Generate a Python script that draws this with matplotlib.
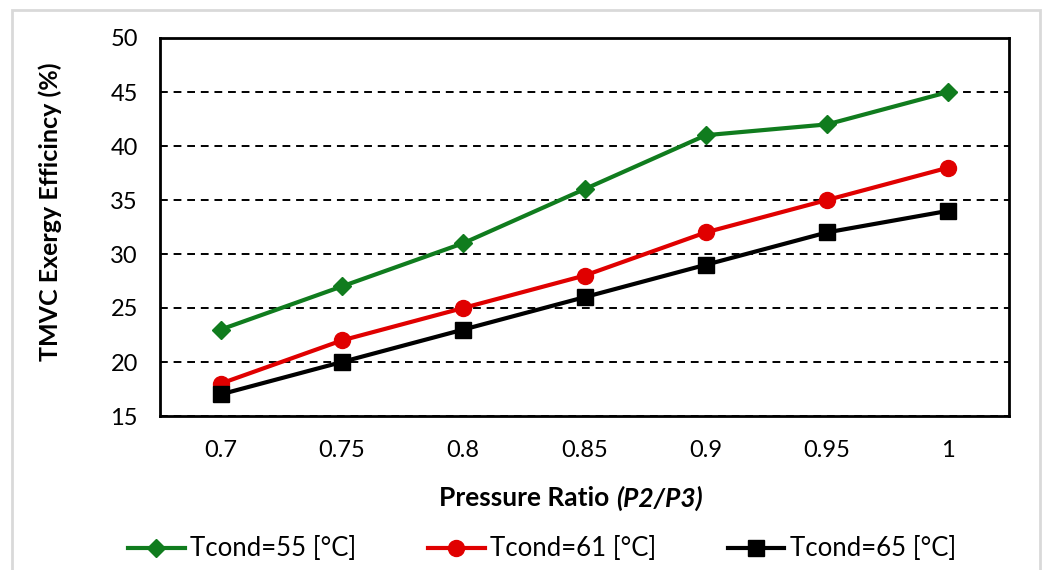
import matplotlib
matplotlib.use("Agg")
import matplotlib.pyplot as plt
from matplotlib.patches import Rectangle

plt.rcParams['font.family'] = ['Lato', 'DejaVu Sans']

# data
ratios = ['0.7', '0.75', '0.8', '0.85', '0.9', '0.95', '1']
eff_55 = [23, 27, 31, 36, 41, 42, 45]
eff_61 = [18, 22, 25, 28, 32, 35, 38]
eff_65 = [17, 20, 23, 26, 29, 32, 34]

fig = plt.figure(figsize=(10.46, 5.7), dpi=100)
ax = fig.add_axes([160/1046, 1 - 416/570, (1009-160)/1046, (416-38)/570])

x = range(len(ratios))
ax.plot(x, eff_55, color='#107c1e', lw=3, marker='D', ms=9.5, label='Tcond=55 [°C]', zorder=3)
ax.plot(x, eff_61, color='#e00000', lw=3, marker='o', ms=11.5, label='Tcond=61 [°C]', zorder=3)
ax.plot(x, eff_65, color='black', lw=3, marker='s', ms=11, label='Tcond=65 [°C]', zorder=3)

ax.set_xlim(-0.5, len(ratios) - 0.5)
ax.set_ylim(15, 50)
ax.set_yticks(range(15, 51, 5))
ax.set_xticks(list(x))
ax.set_xticklabels(ratios)
ax.tick_params(length=0, labelsize=17)
ax.tick_params(axis='y', pad=16)
ax.tick_params(axis='x', pad=17)
ax.yaxis.grid(True, color='black', ls=(0, (4, 3)), lw=1.4)
ax.set_axisbelow(True)
for s in ax.spines.values():
    s.set_linewidth(2)
    s.set_color('black')

ax.set_ylabel('TMVC Exergy Efficincy (%)', fontsize=18, fontweight='bold')
ax.yaxis.set_label_coords(62/1046, 1 - 212/570, transform=fig.transFigure)

# x label with italic part
t1 = fig.text(0.5, 1 - 498/570, 'Pressure Ratio ', fontsize=19, fontweight='bold',
              ha='right', va='center')
t2 = fig.text(0.5, 1 - 498/570, '(P2/P3)', fontsize=19, fontweight='bold', style='italic',
              ha='left', va='center')
fig.canvas.draw()
r = fig.canvas.get_renderer()
w1 = t1.get_window_extent(r).width
w2 = t2.get_window_extent(r).width
cx = 571
t1.set_x((cx - (w1 + w2) / 2 + w1) / 1046)
t2.set_x((cx - (w1 + w2) / 2 + w1) / 1046)

fig.legend(loc='center', bbox_to_anchor=(542/1046, 1 - 549/570), ncol=3, frameon=False,
           fontsize=18.5, handlelength=2.2, handletextpad=0.2, columnspacing=2.8)

fig.patches.append(Rectangle((12/1046, -0.05), (1040-12)/1046, 1.05 - 10/570,
                             transform=fig.transFigure, fill=False, ec='#d9d9d9', lw=2))

fig.savefig('out.png', dpi=100)
